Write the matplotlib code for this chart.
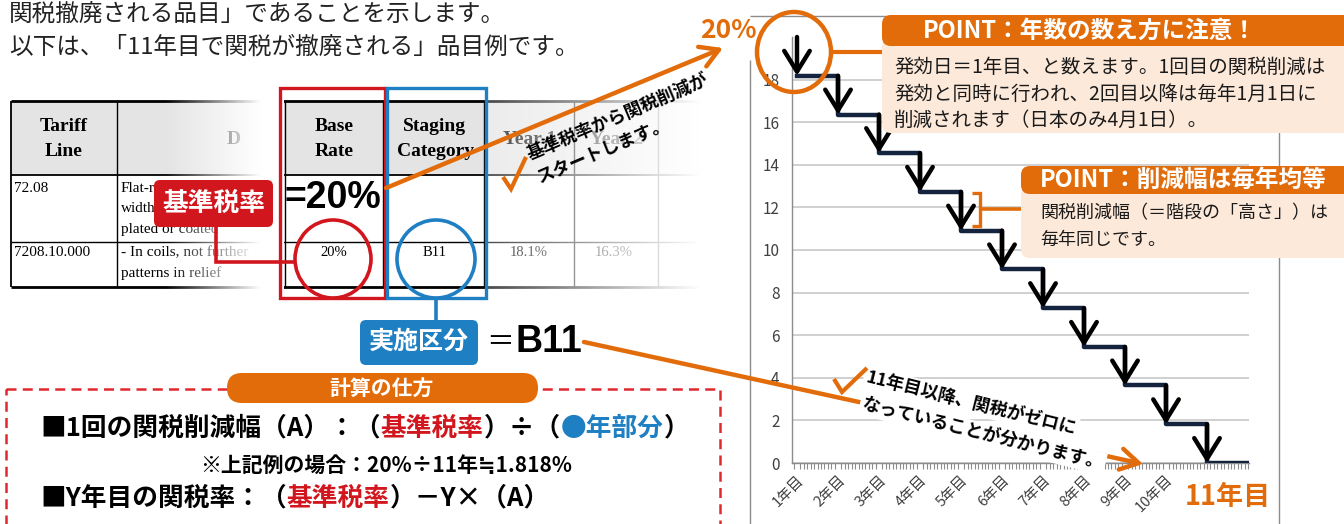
import numpy as np
import matplotlib.pyplot as plt
from matplotlib.patches import FancyBboxPatch, Ellipse, Rectangle

plt.rcParams["font.family"] = ["Noto Sans CJK JP", "DejaVu Sans"]

ORANGE = "#e36c0a"
RED = "#d2161e"
BLUE = "#1f7fc3"
PEACH = "#fde9d9"
NAVY = "#14243e"
AXGRAY = "#8c8c8c"
GRIDGRAY = "#c4c4c4"
TXT = "#222222"

# chart data
year_labels = ["1年目", "2年目", "3年目", "4年目", "5年目",
               "6年目", "7年目", "8年目", "9年目", "10年目"]
last_year_label = "11年目"
base_rate = 20.0
rates_after_cut = [18.18, 16.36, 14.55, 12.73, 10.91, 9.09, 7.27, 5.45, 3.64, 1.82, 0.0]
y_ticks = [0, 2, 4, 6, 8, 10, 12, 14, 16, 18]

# table excerpt
table_header = ["Tariff\nLine", "D", "Base\nRate", "Staging\nCategory", "Year 1", "Year 2"]
row1_code = "72.08"
row1_desc = ["Flat-r", "width", "plated or coated"]
row2_code = "7208.10.000"
row2_desc = ["- In coils, not further", "patterns in relief"]
row2_values = ["20%", "B11", "18.1%", "16.3%"]

intro_lines = ["関税撤廃される品目」であることを示します。",
               "以下は、「11年目で関税が撤廃される」品目例です。"]
point1_title = "POINT：年数の数え方に注意！"
point1_lines = ["発効日＝1年目、と数えます。1回目の関税削減は",
                "発効と同時に行われ、2回目以降は毎年1月1日に",
                "削減されます（日本のみ4月1日）。"]
point2_title = "POINT：削減幅は毎年均等"
point2_lines = ["関税削減幅（＝階段の「高さ」）は", "毎年同じです。"]

fig = plt.figure(figsize=(13.44, 5.24), dpi=100)
W, H = 1344, 524

# ---------------- step chart ----------------
xmin, xmax = -5 / 41, 452 / 41
ax = fig.add_axes([792 / W, (H - 463) / H, (1249 - 792) / W, (463 - 37) / H], zorder=1)
x = np.arange(len(rates_after_cut))
ax.step(np.append(x, xmax), np.append(rates_after_cut, rates_after_cut[-1]),
        where="post", color=NAVY, lw=3.2, zorder=3)
prev = [base_rate] + rates_after_cut[:-1]
for xi, y0, y1 in zip(x, prev, rates_after_cut):
    ax.annotate("", xy=(xi, y1), xytext=(xi, y0), zorder=4,
                arrowprops=dict(arrowstyle="->,head_length=0.55,head_width=0.34",
                                lw=3.2, color="black", shrinkA=0, shrinkB=0,
                                mutation_scale=27))
ax.set_xlim(xmin, xmax)
ax.set_ylim(0, 20)
ax.set_yticks(y_ticks)
ax.yaxis.grid(True, color=GRIDGRAY, lw=1.1)
ax.set_axisbelow(True)
for s in ["top", "right"]:
    ax.spines[s].set_visible(False)
for s in ["left", "bottom"]:
    ax.spines[s].set_color(AXGRAY)
    ax.spines[s].set_linewidth(1)
ax.tick_params(axis="y", length=0, labelsize=11, labelcolor="#404040", pad=9)
ax.set_xticks(x[:len(year_labels)])
ax.set_xticklabels(year_labels, rotation=45, ha="right", rotation_mode="anchor",
                   fontsize=10.5, color="#404040")
ax.tick_params(axis="x", which="major", length=0, pad=7)
ax.set_xticks(np.arange(-1, 133) / 12, minor=True)
ax.tick_params(axis="x", which="minor", length=4, width=0.8, color=AXGRAY)
ax.set_xlim(xmin, xmax)

# ---------------- overlay in pixel coordinates ----------------
ov = fig.add_axes([0, 0, 1, 1], zorder=5)
ov.axis("off")


def rbox(x0, y0, x1, y1, fc, r=6, z=3, **kw):
    ov.add_patch(FancyBboxPatch((x0, y0), x1 - x0, y1 - y0,
                                boxstyle=f"round,pad=0,rounding_size={r}",
                                fc=fc, ec="none", zorder=z, **kw))


def pline(xs, ys, color, lw, z=3, **kw):
    ov.plot(xs, ys, color=color, lw=lw, zorder=z, solid_capstyle="butt",
            solid_joinstyle="miter", **kw)


# chart area border
pline([750, 750], [60, 530], AXGRAY, 1, z=0.5)
pline([750, 1279], [16, 16], AXGRAY, 1, z=0.5)
pline([1279, 1279], [16, 530], AXGRAY, 1, z=0.5)

# intro text
ov.text(9, 15, intro_lines[0], fontsize=17, color=TXT, va="center", ha="left")
ov.text(9, 47, intro_lines[1], fontsize=17, color=TXT, va="center", ha="left")

# table
cols = [11, 117, 285, 383, 484, 574, 658, 740]
rows = [101, 175, 242, 287]
ov.add_patch(Rectangle((cols[0], rows[0]), cols[-1] - cols[0], rows[1] - rows[0],
                       fc="#e4e4e4", ec="none", zorder=1))
pline([cols[0], cols[-1]], [rows[0]] * 2, "black", 2, z=1.2)
pline([cols[0], cols[-1]], [rows[1]] * 2, "black", 1.3, z=1.2)
pline([cols[0], cols[-1]], [rows[2]] * 2, "black", 1.0, z=1.2)
pline([cols[0], cols[-1]], [rows[3]] * 2, "black", 2, z=1.2)
for cx in cols[:-1]:
    pline([cx, cx], [rows[0], rows[3]], "black", 1.3 if cx == cols[0] else 1.0, z=1.2)
serif = "Liberation Serif"
hx = [64, 234, 334, 435, 530, 617]
for cx, lab in zip(hx, table_header):
    ov.text(cx, 139, lab, family=serif, fontsize=14, fontweight="bold",
            ha="center", va="center", linespacing=1.55, zorder=1.3)
ov.text(14, 188, row1_code, family=serif, fontsize=11, va="center", zorder=1.3)
for yy, s in zip([188, 208, 229], row1_desc):
    ov.text(121, yy, s, family=serif, fontsize=11, va="center", zorder=1.3)
ov.text(14, 253, row2_code, family=serif, fontsize=11, va="center", zorder=1.3)
ov.text(121, 253, row2_desc[0], family=serif, fontsize=11, va="center", zorder=1.3)
ov.text(121, 273, row2_desc[1], family=serif, fontsize=11, va="center", zorder=1.3)
for cx, s in zip([334, 435, 529, 614], row2_values):
    ov.text(cx, 253, s, family=serif, fontsize=10.5, ha="center", va="center", zorder=1.3)

# white fades over the table edges
ramp = np.ones((2, 256, 4))
ramp[..., 3] = np.clip(np.linspace(0, 1.25, 256), 0, 1)
ov.imshow(ramp, extent=(165, 284, 294, 94), aspect="auto", zorder=2,
          interpolation="bilinear")
ramp2 = np.ones((2, 256, 4))
ramp2[..., 3] = np.clip(np.linspace(0.3, 1.15, 256), 0, 1)
ov.imshow(ramp2, extent=(488, 745, 294, 94), aspect="auto", zorder=2,
          interpolation="bilinear")

# highlight boxes and circles
ov.add_patch(Rectangle((280, 88), 105, 210, fill=False, ec=RED, lw=2.4, zorder=3))
ov.add_patch(Rectangle((387, 88), 99, 210, fill=False, ec=BLUE, lw=2.4, zorder=3))
ov.add_patch(Ellipse((333, 259), 76, 78, fill=False, ec=RED, lw=2.6, zorder=3))
ov.add_patch(Ellipse((436, 259), 78, 78, fill=False, ec=BLUE, lw=2.6, zorder=3))
ov.text(333, 198, "=20%", family="Liberation Sans", fontsize=27, fontweight="bold",
        ha="center", va="center", zorder=3)

rbox(154, 180, 273, 227, RED, r=6, z=4)
ov.text(213.5, 203, "基準税率", color="white", fontsize=18.5, fontweight="bold",
        ha="center", va="center", zorder=4.5)
pline([216, 216, 295], [227, 262, 262], RED, 2.6, z=3.5)

pline([436, 436], [298, 320], BLUE, 2.6, z=3.5)
rbox(360, 320, 478, 365, BLUE, r=6, z=4)
ov.text(419, 342, "実施区分", color="white", fontsize=18, fontweight="bold",
        ha="center", va="center", zorder=4.5)
ov.text(500, 342, "＝", fontsize=20, ha="center", va="center", zorder=4)
ov.text(515, 342, "B11", family="Liberation Sans", fontsize=27, fontweight="bold",
        ha="left", va="center", zorder=4)

# orange pointers
arrow_kw = dict(arrowstyle="->,head_length=0.65,head_width=0.38", lw=3.2,
                color=ORANGE, shrinkA=0, shrinkB=0, mutation_scale=20)
ov.annotate("", xy=(723, 48), xytext=(386, 188), arrowprops=arrow_kw, zorder=5)
ov.annotate("", xy=(1143, 464), xytext=(584, 342), arrowprops=arrow_kw, zorder=5)

ov.text(528, 156, "基準税率から関税削減が", rotation=23, rotation_mode="anchor",
        fontsize=12.8, fontweight="bold", ha="left", va="center", zorder=6)
ov.text(538, 179, "スタートします。", rotation=23, rotation_mode="anchor",
        fontsize=12.8, fontweight="bold", ha="left", va="center", zorder=6)
pline([503, 511, 526], [177, 189, 157], ORANGE, 3, z=6)

wb = dict(fc="white", ec="none", pad=1.5)
ov.text(866, 377, "11年目以降、関税がゼロに", rotation=-14, rotation_mode="anchor",
        fontsize=12.8, fontweight="bold", ha="left", va="center", zorder=6, bbox=wb)
ov.text(862, 404, "なっていることが分かります。", rotation=-14, rotation_mode="anchor",
        fontsize=12.8, fontweight="bold", ha="left", va="center", zorder=6, bbox=wb)
pline([834, 842, 867], [379, 392, 368], ORANGE, 3, z=6)

ov.text(728, 30, "20%", color=ORANGE, fontsize=19, fontweight="bold",
        ha="center", va="center", zorder=6)
ov.text(1228, 497, last_year_label, color=ORANGE, fontsize=19.5, fontweight="bold",
        ha="center", va="center", zorder=6, bbox=dict(fc="white", ec="none", pad=4))

# circle on the first step
ov.add_patch(Ellipse((794, 52), 74, 80, fill=False, ec=ORANGE, lw=3.2, zorder=6))
pline([831, 882], [52, 52], ORANGE, 3, z=6)

# POINT boxes
rbox(882, 38, 1360, 133, PEACH, r=9, z=6)
rbox(882, 15, 1360, 46, ORANGE, r=9, z=6.2)
ov.text(1090, 31, point1_title, color="white", fontsize=17, fontweight="bold",
        ha="center", va="center", zorder=7)
for yy, s in zip([67, 94, 120], point1_lines):
    ov.text(894, yy, s, fontsize=14, color="#1a1a1a", ha="left", va="center", zorder=7)

rbox(1021, 186, 1360, 258, PEACH, r=9, z=6)
rbox(1021, 166, 1360, 194, ORANGE, r=9, z=6.2)
ov.text(1040, 180, point2_title, color="white", fontsize=17, fontweight="bold",
        ha="left", va="center", zorder=7)
for yy, s in zip([213, 240], point2_lines):
    ov.text(1040, yy, s, fontsize=13, color="#1a1a1a", ha="left", va="center", zorder=7)

pline([972, 980, 980, 972], [193, 193, 226, 226], ORANGE, 2.4, z=6)
pline([980, 1021], [209, 209], ORANGE, 2.6, z=6)

# calculation box
ov.add_patch(Rectangle((6, 389), 714, 150, fill=False, ec="#e0282e", lw=1.8,
                       linestyle=(0, (4, 2.5)), zorder=3))
rbox(227, 373, 538, 403, ORANGE, r=15, z=4)
ov.text(382, 388, "計算の仕方", color="white", fontsize=15, fontweight="bold",
        ha="center", va="center", zorder=5)


def colored_line(x0, y0, parts, size):
    t = ov.text(x0, y0, parts[0][0], color=parts[0][1], fontsize=size,
                fontweight="bold", ha="left", va="center", zorder=5)
    for s, c in parts[1:]:
        t = ov.annotate(s, xy=(1, 0), xycoords=t, color=c, fontsize=size,
                        fontweight="bold", ha="left", va="bottom", zorder=5)


colored_line(40, 428, [("■1回の関税削減幅（A）：（", "black"), ("基準税率", RED),
                       ("）÷（", "black"), ("●年部分", BLUE), ("）", "black")], 18.5)
ov.text(386, 465, "※上記例の場合：20%÷11年≒1.818%", fontsize=15, fontweight="bold",
        ha="center", va="center", zorder=5)
colored_line(40, 498, [("■Y年目の関税率：（", "black"), ("基準税率", RED),
                       ("）－Y×（A）", "black")], 18.5)

ov.set_xlim(0, W)
ov.set_ylim(H, 0)

fig.savefig("out.png", dpi=100, facecolor="white")
